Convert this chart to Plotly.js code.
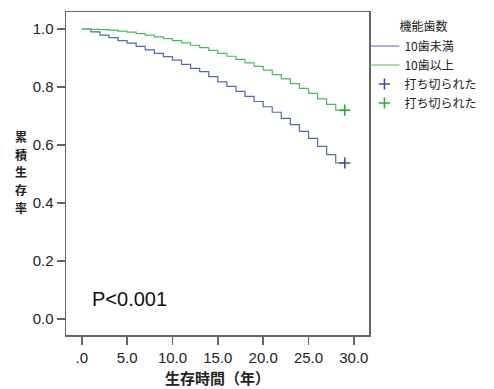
<!DOCTYPE html>
<html>
<head>
<meta charset="utf-8">
<script src="https://cdn.plot.ly/plotly-3.0.1.min.js"></script>
<style>
  html, body { margin: 0; padding: 0; background: #fff; }
  #chart { width: 494px; height: 389px; }
</style>
</head>
<body>
<div id="chart"></div>
<script>
// ---- data ----
var timeYears = [0, 1, 2, 3, 4, 5, 6, 7, 8, 9, 10, 11, 12, 13, 14, 15, 16, 17, 18, 19, 20, 21, 22, 23, 24, 25, 26, 27, 28, 29];
var survUnder10 = [1.0, 0.990, 0.979, 0.970, 0.960, 0.951, 0.940, 0.928, 0.916, 0.905, 0.893, 0.878, 0.864, 0.853, 0.836, 0.818, 0.802, 0.785, 0.768, 0.750, 0.732, 0.713, 0.692, 0.670, 0.647, 0.623, 0.595, 0.567, 0.538, 0.538];
var survOver10 = [1.0, 0.999, 0.998, 0.996, 0.993, 0.989, 0.984, 0.979, 0.973, 0.967, 0.960, 0.952, 0.944, 0.936, 0.926, 0.916, 0.906, 0.895, 0.883, 0.871, 0.858, 0.843, 0.828, 0.812, 0.795, 0.778, 0.759, 0.740, 0.720, 0.720];
var censorTime = [29];
var censorUnder10 = [0.538];
var censorOver10 = [0.720];

var groupNames = ['10歯未満', '10歯以上'];
var censorName = '打ち切られた';
var legendTitle = '機能歯数';
var xTickVals = [0, 5, 10, 15, 20, 25, 30];
var xTickText = ['.0', '5.0', '10.0', '15.0', '20.0', '25.0', '30.0'];
var yTickVals = [0, 0.2, 0.4, 0.6, 0.8, 1.0];
var yTickText = ['0.0', '0.2', '0.4', '0.6', '0.8', '1.0'];
var xTitle = '生存時間（年）';
var yTitleChars = ['累', '積', '生', '存', '率'];
var pText = 'P<0.001';

// ---- styles ----
var blue = '#5566b2';
var green = '#4cbb5a';
var blueMark = '#3d4ea6';
var greenMark = '#2fa83d';
var latin = 'Liberation Sans, Arial, Noto Sans CJK JP, sans-serif';
var cjk = 'Noto Sans CJK JP, Liberation Sans, sans-serif';

var traces = [
  { x: timeYears, y: survUnder10, name: groupNames[0], type: 'scatter', mode: 'lines',
    line: { shape: 'hv', color: blue, width: 1.2 } },
  { x: timeYears, y: survOver10, name: groupNames[1], type: 'scatter', mode: 'lines',
    line: { shape: 'hv', color: green, width: 1.2 } },
  { x: censorTime, y: censorUnder10, name: censorName, type: 'scatter', mode: 'markers',
    marker: { symbol: 'cross-thin-open', size: 8, color: blueMark, line: { color: blueMark, width: 1.6 } } },
  { x: censorTime, y: censorOver10, name: censorName, type: 'scatter', mode: 'markers',
    marker: { symbol: 'cross-thin-open', size: 8, color: greenMark, line: { color: greenMark, width: 1.6 } } }
];

var annotations = [{
  text: pText, xref: 'paper', yref: 'paper', x: 0.21, y: 0.110,
  xanchor: 'center', yanchor: 'middle', showarrow: false,
  font: { family: latin, size: 20, color: '#111' }
}];
// vertical (stacked) y-axis title, one upright character per line
var charStep = 17.6, charMid = 172;
for (var i = 0; i < yTitleChars.length; i++) {
  var cy = charMid + (i - 2) * charStep;
  annotations.push({
    text: '<b>' + yTitleChars[i] + '</b>', xref: 'paper', yref: 'paper',
    x: (19 - 66) / 320, y: (335 - cy) / 323,
    xanchor: 'center', yanchor: 'middle', showarrow: false, borderpad: 0,
    font: { family: cjk, size: 12, color: '#222' }
  });
}

var layout = {
  width: 494, height: 389,
  margin: { l: 66, r: 108, t: 12, b: 54, pad: 0 },
  paper_bgcolor: '#fff', plot_bgcolor: '#fff',
  showlegend: true,
  legend: {
    x: 0.985, xanchor: 'left', y: 0.988, yanchor: 'top',
    bgcolor: 'rgba(0,0,0,0)', borderwidth: 0,
    font: { family: cjk, size: 12, color: '#222' },
    title: { text: legendTitle, side: 'top center', font: { family: cjk, size: 12, color: '#222' } },
    traceorder: 'normal', itemwidth: 30
  },
  xaxis: {
    range: [-1.74, 31.67], showgrid: false, zeroline: false,
    showline: true, mirror: true, linecolor: '#666', linewidth: 1.5,
    ticks: 'outside', ticklen: 8, tickwidth: 1.5, tickcolor: '#666',
    tickvals: xTickVals, ticktext: xTickText,
    tickfont: { family: latin, size: 15, color: '#222' },
    title: { text: '<b>' + xTitle + '</b>', standoff: 9, font: { family: cjk, size: 15, color: '#222' } }
  },
  yaxis: {
    range: [-0.055, 1.0586], showgrid: false, zeroline: false,
    showline: true, mirror: true, linecolor: '#666', linewidth: 1.5,
    ticks: 'outside', ticklen: 8, tickwidth: 1.5, tickcolor: '#666',
    tickvals: yTickVals, ticktext: yTickText,
    tickfont: { family: latin, size: 15, color: '#222' }
  },
  annotations: annotations
};

Plotly.newPlot('chart', traces, layout, { displayModeBar: false, staticPlot: true });
</script>
</body>
</html>
